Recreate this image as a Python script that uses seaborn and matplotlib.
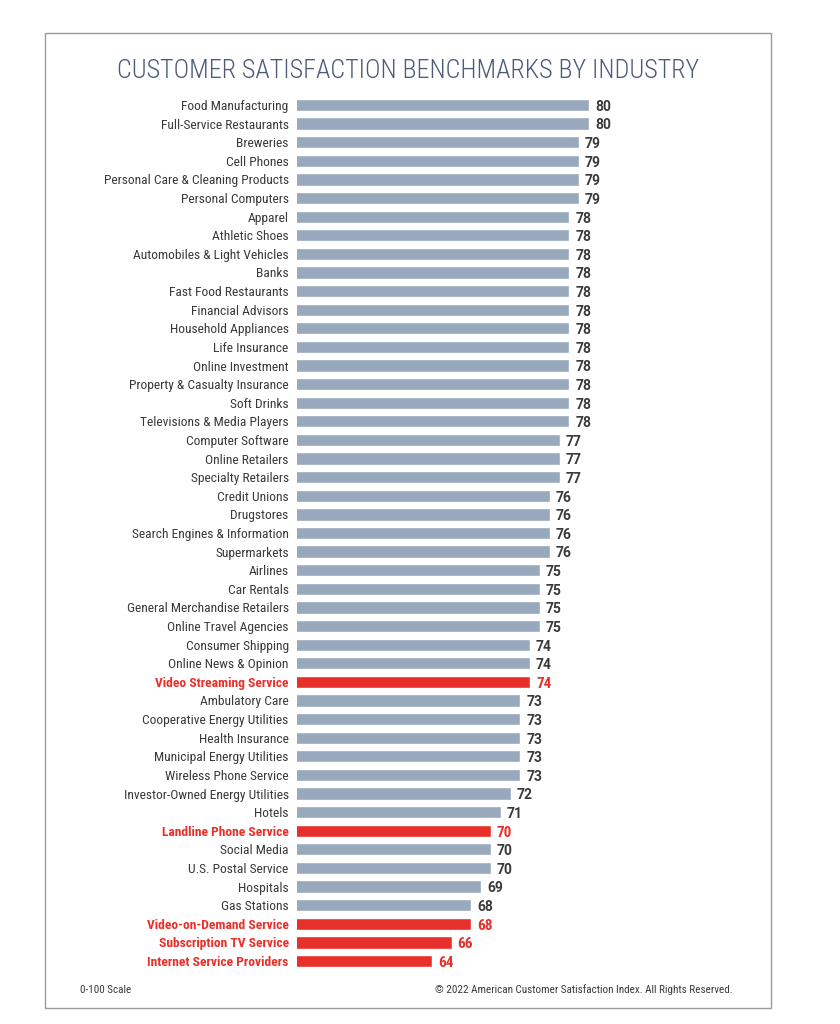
import matplotlib.pyplot as plt
import pandas as pd
import seaborn as sns
from matplotlib import font_manager
from matplotlib.patches import Rectangle

# Datos
industries = [
    "Food Manufacturing", "Full-Service Restaurants", "Breweries", "Cell Phones",
    "Personal Care & Cleaning Products", "Personal Computers", "Apparel",
    "Athletic Shoes", "Automobiles & Light Vehicles", "Banks",
    "Fast Food Restaurants", "Financial Advisors", "Household Appliances",
    "Life Insurance", "Online Investment", "Property & Casualty Insurance",
    "Soft Drinks", "Televisions & Media Players", "Computer Software",
    "Online Retailers", "Specialty Retailers", "Credit Unions", "Drugstores",
    "Search Engines & Information", "Supermarkets", "Airlines", "Car Rentals",
    "General Merchandise Retailers", "Online Travel Agencies",
    "Consumer Shipping", "Online News & Opinion", "Video Streaming Service",
    "Ambulatory Care", "Cooperative Energy Utilities", "Health Insurance",
    "Municipal Energy Utilities", "Wireless Phone Service",
    "Investor-Owned Energy Utilities", "Hotels", "Landline Phone Service",
    "Social Media", "U.S. Postal Service", "Hospitals", "Gas Stations",
    "Video-on-Demand Service", "Subscription TV Service",
    "Internet Service Providers",
]
scores = [
    80, 80, 79, 79, 79, 79, 78, 78, 78, 78, 78, 78, 78, 78, 78, 78, 78, 78,
    77, 77, 77, 76, 76, 76, 76, 75, 75, 75, 75, 74, 74, 74, 73, 73, 73, 73,
    73, 72, 71, 70, 70, 70, 69, 68, 68, 66, 64,
]
highlighted = [
    "Video Streaming Service", "Landline Phone Service",
    "Video-on-Demand Service", "Subscription TV Service",
    "Internet Service Providers",
]

GRAY = "#98a9bd"
RED = "#e8302b"
TEXT = "#3a3a3a"
TITLE = "#4b5b78"

sns.set_theme(style="white")

# Fuente estrecha si existe; si no, Roboto con tamaño reducido
available = {f.name for f in font_manager.fontManager.ttflist}
FONT, SCALE = "Roboto", 0.9
for cand in ["Liberation Sans Narrow", "Roboto Condensed", "Open Sans Condensed"]:
    if cand in available:
        FONT, SCALE = cand, 1.0
        break
plt.rcParams["font.family"] = [FONT, "DejaVu Sans"]

df = pd.DataFrame({"industry": industries, "score": scores})
palette = {n: (RED if n in highlighted else GRAY) for n in industries}

fig = plt.figure(figsize=(8.4, 10.24), dpi=100)
ax = fig.add_axes([297 / 840, 1 - 970.3 / 1024, 390 / 840, 874.6 / 1024])

sns.barplot(data=df, x="score", y="industry", hue="industry", palette=palette,
            legend=False, width=0.66, saturation=1, ax=ax)

ax.set_xlim(50.2, 90)
ax.set_ylim(len(industries) - 0.5, -0.5)
ax.set_xlabel("")
ax.set_ylabel("")
ax.set_xticks([])
for s in ax.spines.values():
    s.set_visible(False)

ax.tick_params(axis="y", length=0, pad=6)
for lbl in ax.get_yticklabels():
    name = lbl.get_text()
    if name in highlighted:
        lbl.set_color(RED)
        lbl.set_fontweight("bold")
    else:
        lbl.set_color(TEXT)
    lbl.set_fontsize(9.7 * SCALE)

# Etiquetas de valor
for i, (name, v) in enumerate(zip(industries, scores)):
    if name in highlighted:
        ax.text(v + 0.6, i + 0.1, str(v), va="center", ha="left",
                fontsize=11.0 * SCALE, fontweight="bold", color=RED)
    else:
        ax.text(v + 0.6, i + 0.1, str(v), va="center", ha="left",
                fontsize=10.0, fontweight="bold", color=TEXT,
                family=["Roboto", "DejaVu Sans"])

# Marco exterior, título y pie
fig.patches.append(Rectangle((45 / 840, 1 - 1008 / 1024), 726 / 840, 975 / 1024,
                             transform=fig.transFigure, fill=False,
                             edgecolor="#9a9a9a", linewidth=1))
fig.text(408 / 840, 1 - 71 / 1024, "CUSTOMER SATISFACTION BENCHMARKS BY INDUSTRY",
         ha="center", va="center", fontsize=18.8 * SCALE, color=TITLE,
         fontweight="light")
fig.text(80 / 840, 1 - 990 / 1024, "0-100 Scale", ha="left", va="center",
         fontsize=8.0 * SCALE, color=TEXT)
fig.text(733 / 840, 1 - 990 / 1024,
         "© 2022 American Customer Satisfaction Index. All Rights Reserved.",
         ha="right", va="center", fontsize=8.0 * SCALE, color=TEXT)

fig.savefig("out.png", dpi=100)
